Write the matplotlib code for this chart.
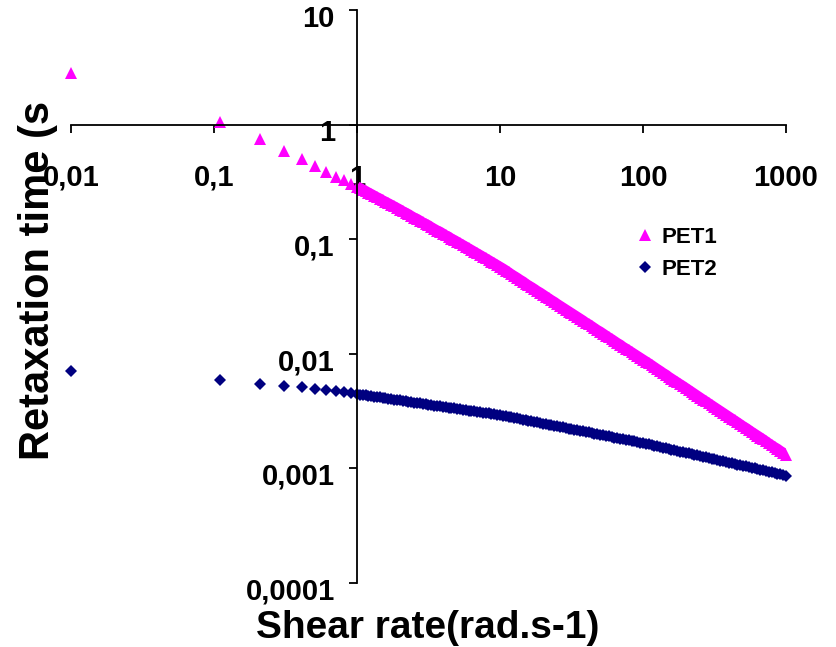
import matplotlib
matplotlib.use("Agg")
import matplotlib.pyplot as plt
import matplotlib.transforms as mtransforms

plt.rcParams['font.family'] = ['Liberation Sans', 'DejaVu Sans']
plt.rcParams['font.weight'] = 'bold'

# shear rate (rad/s)
shear_rate = [
    0.01, 0.11, 0.21, 0.31, 0.41, 0.51, 0.61, 0.71, 0.81, 0.91,
    1.00, 1.05, 1.10, 1.15, 1.20, 1.26, 1.32, 1.38, 1.45, 1.51,
    1.58, 1.66, 1.74, 1.82, 1.91, 2.00, 2.09, 2.19, 2.29, 2.40,
    2.51, 2.63, 2.75, 2.88, 3.02, 3.16, 3.31, 3.47, 3.63, 3.80,
    3.98, 4.17, 4.37, 4.57, 4.79, 5.01, 5.25, 5.50, 5.75, 6.03,
    6.31, 6.61, 6.92, 7.24, 7.59, 7.94, 8.32, 8.71, 9.12, 9.55,
    10.0, 10.5, 11.0, 11.5, 12.0, 12.6, 13.2, 13.8, 14.5, 15.1,
    15.8, 16.6, 17.4, 18.2, 19.1, 20.0, 20.9, 21.9, 22.9, 24.0,
    25.1, 26.3, 27.5, 28.8, 30.2, 31.6, 33.1, 34.7, 36.3, 38.0,
    39.8, 41.7, 43.7, 45.7, 47.9, 50.1, 52.5, 55.0, 57.5, 60.3,
    63.1, 66.1, 69.2, 72.4, 75.9, 79.4, 83.2, 87.1, 91.2, 95.5,
    100, 105, 110, 115, 120, 126, 132, 138, 145, 151,
    158, 166, 174, 182, 191, 200, 209, 219, 229, 240,
    251, 263, 275, 288, 302, 316, 331, 347, 363, 380,
    398, 417, 437, 457, 479, 501, 525, 550, 575, 603,
    631, 661, 692, 724, 759, 794, 832, 871, 912, 955,
    1000,
]

# relaxation time (s)
pet1 = [
    2.84, 1.06, 0.747, 0.593, 0.505, 0.434, 0.385, 0.352, 0.328, 0.306,
    0.288, 0.279, 0.271, 0.263, 0.255, 0.247, 0.239, 0.232, 0.225, 0.218,
    0.212, 0.205, 0.199, 0.193, 0.187, 0.181, 0.175, 0.170, 0.165, 0.159,
    0.154, 0.150, 0.145, 0.140, 0.136, 0.132, 0.127, 0.123, 0.119, 0.116,
    0.112, 0.108, 0.105, 0.101, 0.0981, 0.0949, 0.0918, 0.0889, 0.0860, 0.0831,
    0.0804, 0.0778, 0.0752, 0.0727, 0.0703, 0.0680, 0.0657, 0.0636, 0.0614, 0.0594,
    0.0574, 0.0553, 0.0533, 0.0513, 0.0494, 0.0476, 0.0459, 0.0442, 0.0426, 0.0410,
    0.0395, 0.0381, 0.0367, 0.0353, 0.0341, 0.0328, 0.0316, 0.0304, 0.0293, 0.0283,
    0.0272, 0.0262, 0.0253, 0.0243, 0.0234, 0.0226, 0.0218, 0.0210, 0.0202, 0.0195,
    0.0187, 0.0181, 0.0174, 0.0168, 0.0161, 0.0156, 0.0150, 0.0144, 0.0139, 0.0134,
    0.0129, 0.0124, 0.0120, 0.0115, 0.0111, 0.0107, 0.0103, 0.00994, 0.00958, 0.00923,
    0.00889, 0.00856, 0.00824, 0.00793, 0.00763, 0.00734, 0.00707, 0.00680, 0.00655, 0.00630,
    0.00607, 0.00584, 0.00562, 0.00541, 0.00521, 0.00501, 0.00482, 0.00464, 0.00447, 0.00430,
    0.00414, 0.00398, 0.00384, 0.00369, 0.00355, 0.00342, 0.00329, 0.00317, 0.00305, 0.00294,
    0.00283, 0.00272, 0.00262, 0.00252, 0.00242, 0.00233, 0.00225, 0.00216, 0.00208, 0.00200,
    0.00193, 0.00186, 0.00179, 0.00172, 0.00165, 0.00159, 0.00153, 0.00148, 0.00142, 0.00137,
    0.00132,
]

pet2 = [
    0.00713, 0.00595, 0.00550, 0.00528, 0.00513, 0.00497, 0.00482, 0.00471, 0.00461, 0.00452,
    0.00445, 0.00441, 0.00437, 0.00434, 0.00430, 0.00426, 0.00423, 0.00419, 0.00416, 0.00412,
    0.00409, 0.00405, 0.00402, 0.00399, 0.00395, 0.00392, 0.00389, 0.00385, 0.00382, 0.00379,
    0.00376, 0.00373, 0.00369, 0.00366, 0.00363, 0.00360, 0.00357, 0.00354, 0.00351, 0.00348,
    0.00345, 0.00342, 0.00340, 0.00337, 0.00334, 0.00331, 0.00328, 0.00326, 0.00323, 0.00320,
    0.00317, 0.00315, 0.00312, 0.00310, 0.00307, 0.00304, 0.00302, 0.00299, 0.00297, 0.00294,
    0.00292, 0.00288, 0.00285, 0.00282, 0.00279, 0.00276, 0.00273, 0.00270, 0.00267, 0.00264,
    0.00261, 0.00258, 0.00255, 0.00252, 0.00249, 0.00246, 0.00244, 0.00241, 0.00238, 0.00235,
    0.00233, 0.00230, 0.00228, 0.00225, 0.00223, 0.00220, 0.00218, 0.00215, 0.00213, 0.00210,
    0.00208, 0.00206, 0.00203, 0.00201, 0.00199, 0.00197, 0.00194, 0.00192, 0.00190, 0.00188,
    0.00186, 0.00184, 0.00182, 0.00180, 0.00178, 0.00176, 0.00174, 0.00172, 0.00170, 0.00168,
    0.00166, 0.00164, 0.00162, 0.00160, 0.00158, 0.00156, 0.00154, 0.00152, 0.00150, 0.00148,
    0.00146, 0.00144, 0.00142, 0.00140, 0.00138, 0.00137, 0.00135, 0.00133, 0.00131, 0.00130,
    0.00128, 0.00126, 0.00125, 0.00123, 0.00121, 0.00120, 0.00118, 0.00117, 0.00115, 0.00114,
    0.00112, 0.00111, 0.00109, 0.00108, 0.00107, 0.00105, 0.00104, 0.00103, 0.00101, 0.000999,
    0.000986, 0.000973, 0.000961, 0.000948, 0.000936, 0.000924, 0.000912, 0.000900, 0.000888, 0.000877,
    0.000865,
]

x_ticks = [0.01, 0.1, 1, 10, 100, 1000]
x_labels = ['0,01', '0,1', '1', '10', '100', '1000']
y_ticks = [0.0001, 0.001, 0.01, 0.1, 1, 10]
y_labels = ['0,0001', '0,001', '0,01', '0,1', '1', '10']

MAGENTA = '#FF00FF'
NAVY = '#000080'

fig = plt.figure(figsize=(8.36, 6.47), dpi=100)
ax = fig.add_axes([0.0849, 0.0989, 0.8553, 0.8856])

# from 1 rad/s on the points sit so close that they merge into a band;
# a wide stroke under them fills the gaps between neighbouring markers
dense = slice(10, None)
ax.plot(shear_rate[dense], pet1[dense], color=MAGENTA, linewidth=7.5,
        solid_capstyle='butt', solid_joinstyle='round')
ax.plot(shear_rate[dense], pet2[dense], color=NAVY, linewidth=6,
        solid_capstyle='butt', solid_joinstyle='round')

ax.plot(shear_rate, pet1, linestyle='none', marker='^', markersize=9,
        color=MAGENTA, markeredgewidth=0, label='PET1', clip_on=False)
ax.plot(shear_rate, pet2, linestyle='none', marker='D', markersize=6.5,
        color=NAVY, markeredgewidth=0, label='PET2', clip_on=False)

ax.set_xscale('log')
ax.set_yscale('log')
ax.set_xlim(0.01, 1000)
ax.set_ylim(0.0001, 10)

# axes cross at (1, 1)
ax.spines['left'].set_position(('data', 1))
ax.spines['bottom'].set_position(('data', 1))
ax.spines['top'].set_visible(False)
ax.spines['right'].set_visible(False)
for s in ('left', 'bottom'):
    ax.spines[s].set_linewidth(1.3)

ax.set_xticks(x_ticks)
ax.set_xticklabels(x_labels)
ax.set_yticks(y_ticks)
ax.set_yticklabels(y_labels)
ax.minorticks_off()
ax.tick_params(axis='x', direction='out', length=6, width=1.3, pad=22, labelsize=21)
ax.tick_params(axis='y', direction='out', length=6, width=1.3, pad=10, labelsize=21)

offset = mtransforms.ScaledTranslation(0, -4 / 72, fig.dpi_scale_trans)
for lab in ax.get_yticklabels():
    lab.set_transform(lab.get_transform() + offset)

fig.text(428 / 836, 1 - 628 / 647, 'Shear rate(rad.s-1)', fontsize=28,
         fontweight='bold', ha='center', va='center')
fig.text(38 / 836, 1 - 280 / 647, 'Retaxation time (s', fontsize=30,
         fontweight='bold', ha='center', va='center', rotation=90)

handles = [h for h in ax.get_lines() if h.get_label() in ('PET1', 'PET2')]
ax.legend(handles=handles, loc='upper left', bbox_to_anchor=(635 / 836, 1 - 227 / 647),
          bbox_transform=fig.transFigure, frameon=False, fontsize=16,
          handletextpad=0.3, labelspacing=0.5, borderpad=0, borderaxespad=0,
          handlelength=0.9, numpoints=1)

fig.savefig('out.png', dpi=100)
